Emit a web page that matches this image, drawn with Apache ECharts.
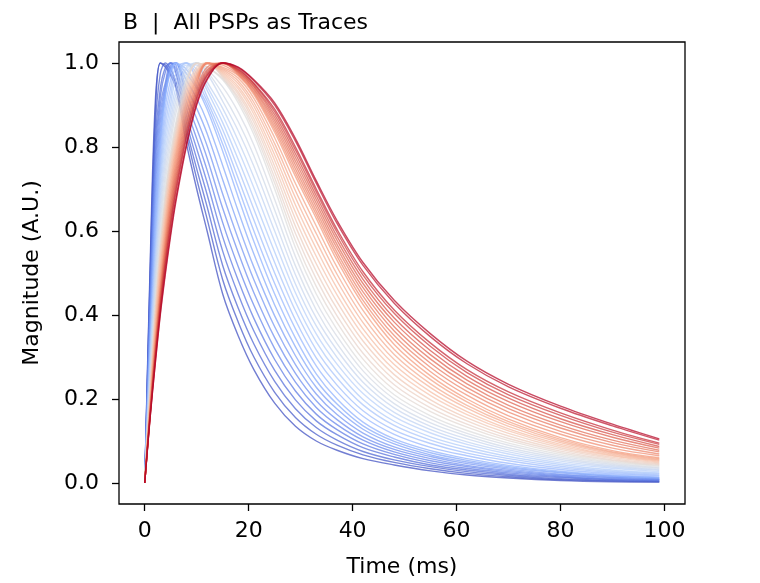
<!DOCTYPE html>
<html>
<head>
<meta charset="utf-8">
<title>All PSPs as Traces</title>
<script src="https://cdn.jsdelivr.net/npm/echarts@6/dist/echarts.min.js"></script>
<style>
  html, body { margin: 0; padding: 0; background: #fff; }
  #chart { width: 760px; height: 583px; }
</style>
</head>
<body>
<div id="chart"></div>
<script>
// sample times (ms), shared by every trace
const TIME_MS = [0, 1, 2, 3, 4, 5, 6, 8, 10, 12, 15, 18, 21, 25, 29, 33, 37, 42, 48, 55, 62, 70, 80, 90, 99];

// normalised PSP traces, fastest (blue) to slowest (red)
const trace00 = [0, .50, .90, 1.0, .99, .97, .94, .81, .70, .60, .45, .35, .27, .19, .135, .10, .078, .058, .043, .029, .019, .012, .006, .003, .002];
const trace01 = [0, .482, .87, 1.0, .995, .975, .95, .83, .724, .629, .484, .383, .30, .216, .156, .116, .090, .067, .049, .034, .023, .015, .008, .005, .003];
const trace02 = [0, .464, .84, .975, 1.0, .985, .955, .843, .748, .658, .518, .416, .331, .242, .177, .132, .102, .075, .055, .039, .027, .018, .010, .006, .004];
const trace03 = [0, .446, .81, .94, .99, 1.0, .975, .86, .772, .687, .552, .449, .362, .268, .198, .148, .115, .084, .062, .043, .031, .021, .013, .008, .006];
const trace04 = [0, .428, .78, .92, .98, 1.0, .985, .876, .796, .716, .586, .482, .392, .294, .219, .164, .127, .093, .068, .048, .035, .024, .015, .009, .007];
const trace05 = [0, .41, .75, .90, .955, 1.0, .995, .893, .82, .745, .62, .515, .423, .32, .24, .18, .139, .102, .074, .053, .039, .027, .017, .011, .008];
const trace06 = [0, .392, .72, .88, .948, .995, 1.0, .909, .844, .774, .654, .548, .453, .346, .261, .196, .151, .110, .080, .058, .042, .030, .019, .013, .009];
const trace07 = [0, .374, .69, .86, .941, .99, 1.0, .926, .868, .803, .688, .581, .484, .372, .282, .212, .163, .119, .086, .063, .046, .033, .021, .014, .010];
const trace08 = [0, .356, .66, .84, .934, .985, 1.0, .942, .892, .832, .722, .614, .514, .398, .303, .228, .176, .128, .093, .067, .050, .036, .024, .016, .012];
const trace09 = [0, .338, .63, .82, .927, .982, 1.0, .959, .916, .861, .756, .647, .545, .424, .324, .244, .188, .136, .099, .072, .054, .039, .026, .017, .013];
const trace10 = [0, .32, .60, .80, .92, .98, 1.0, .975, .94, .89, .79, .68, .575, .45, .345, .26, .20, .145, .105, .077, .058, .042, .028, .019, .014];
const trace11 = [0, .31, .582, .778, .898, .961, 1.0, .985, .946, .90, .807, .703, .60, .475, .367, .279, .217, .159, .116, .085, .065, .047, .032, .022, .017];
const trace12 = [0, .30, .564, .756, .876, .942, .99, 1.0, .96, .91, .824, .725, .626, .50, .388, .298, .233, .172, .126, .094, .071, .053, .036, .025, .019];
const trace13 = [0, .29, .546, .734, .854, .923, .975, 1.0, .975, .92, .841, .748, .652, .525, .41, .317, .25, .186, .137, .102, .078, .058, .040, .028, .022];
const trace14 = [0, .28, .528, .712, .832, .904, .96, 1.0, .985, .935, .858, .77, .677, .55, .431, .336, .266, .199, .147, .11, .085, .063, .044, .031, .024];
const trace15 = [0, .27, .51, .69, .81, .885, .94, .995, .995, .945, .875, .793, .703, .575, .453, .355, .283, .213, .158, .119, .092, .069, .048, .035, .027];
const trace16 = [0, .26, .492, .668, .788, .866, .925, .99, 1.0, .955, .892, .815, .728, .60, .474, .374, .299, .226, .168, .127, .098, .074, .052, .038, .030];
const trace17 = [0, .25, .474, .646, .766, .847, .91, .985, 1.0, .975, .909, .838, .754, .625, .496, .393, .316, .24, .179, .135, .105, .079, .056, .041, .032];
const trace18 = [0, .24, .456, .624, .744, .828, .895, .975, 1.0, .98, .926, .86, .779, .65, .517, .412, .332, .253, .189, .143, .112, .084, .060, .044, .035];
const trace19 = [0, .23, .438, .602, .722, .809, .88, .965, 1.0, .985, .943, .883, .805, .675, .539, .431, .349, .267, .20, .152, .118, .09, .064, .047, .037];
const trace20 = [0, .22, .42, .58, .70, .79, .86, .96, 1.0, .99, .96, .905, .83, .70, .56, .45, .365, .28, .21, .16, .125, .095, .068, .05, .04];
const trace21 = [0, .215, .411, .569, .689, .78, .851, .953, 1.0, .991, .963, .912, .84, .714, .577, .468, .382, .295, .222, .17, .133, .101, .072, .053, .042];
const trace22 = [0, .21, .402, .558, .678, .77, .842, .946, .998, .998, .966, .918, .849, .727, .594, .486, .398, .309, .234, .179, .14, .106, .076, .055, .044];
const trace23 = [0, .205, .393, .547, .667, .76, .833, .939, .99, 1.0, .969, .925, .859, .741, .611, .504, .415, .324, .246, .189, .148, .112, .08, .058, .046];
const trace24 = [0, .20, .384, .536, .656, .75, .824, .932, .984, 1.0, .972, .931, .868, .754, .628, .522, .431, .338, .258, .198, .155, .118, .084, .061, .048];
const trace25 = [0, .195, .375, .525, .645, .74, .815, .925, .98, 1.0, .975, .938, .878, .768, .645, .54, .448, .353, .27, .208, .163, .124, .088, .064, .05];
const trace26 = [0, .19, .366, .514, .634, .73, .806, .918, .976, 1.0, .978, .944, .887, .781, .662, .558, .464, .367, .282, .217, .17, .129, .092, .066, .052];
const trace27 = [0, .185, .357, .503, .623, .72, .797, .911, .972, 1.0, .981, .951, .897, .795, .679, .576, .481, .382, .294, .227, .178, .135, .096, .069, .054];
const trace28 = [0, .18, .348, .492, .612, .71, .788, .904, .968, 1.0, .984, .957, .906, .808, .696, .594, .497, .396, .306, .236, .185, .141, .10, .072, .056];
const trace29 = [0, .175, .339, .481, .601, .70, .779, .897, .964, 1.0, .987, .964, .916, .822, .713, .612, .514, .411, .318, .246, .193, .146, .104, .074, .058];
const trace30 = [0, .17, .33, .47, .59, .69, .77, .89, .96, 1.0, .99, .97, .925, .835, .73, .63, .53, .425, .33, .255, .20, .152, .108, .077, .06];
const trace31 = [0, .168, .325, .463, .581, .68, .76, .881, .954, 1.0, .995, .972, .929, .842, .739, .639, .54, .435, .341, .265, .209, .16, .116, .083, .065];
const trace32 = [0, .166, .32, .456, .572, .67, .75, .872, .948, .998, .998, .974, .932, .849, .748, .648, .549, .445, .351, .275, .218, .169, .123, .09, .069];
const trace33 = [0, .164, .315, .449, .563, .66, .74, .863, .942, .99, 1.0, .976, .936, .856, .757, .657, .559, .455, .362, .285, .227, .177, .131, .096, .074];
const trace34 = [0, .162, .31, .442, .554, .65, .73, .854, .936, .984, 1.0, .978, .939, .863, .766, .666, .568, .465, .372, .295, .236, .185, .138, .102, .078];
const trace35 = [0, .16, .305, .435, .545, .64, .72, .845, .93, .98, 1.0, .98, .943, .87, .775, .675, .578, .475, .383, .305, .245, .194, .146, .109, .083];
const trace36 = [0, .158, .30, .428, .536, .63, .71, .836, .924, .976, 1.0, .982, .946, .877, .784, .684, .587, .485, .393, .315, .254, .202, .153, .115, .087];
const trace37 = [0, .156, .295, .421, .527, .62, .70, .827, .918, .972, 1.0, .984, .95, .884, .793, .693, .597, .495, .404, .325, .263, .21, .161, .121, .092];
const trace38 = [0, .154, .291, .415, .52, .612, .692, .82, .913, .969, 1.0, .986, .952, .89, .80, .70, .604, .503, .412, .333, .27, .217, .167, .126, .095];
const trace39 = [0, .151, .283, .405, .506, .597, .677, .806, .904, .963, 1.0, .989, .958, .90, .814, .714, .618, .518, .428, .348, .284, .229, .178, .136, .102];
const trace40 = [0, .15, .28, .40, .50, .59, .67, .80, .90, .96, 1.0, .99, .96, .905, .82, .72, .625, .525, .435, .355, .29, .235, .183, .14, .105];

const TRACES = [
  trace00, trace01, trace02, trace03, trace04, trace05, trace06, trace07, trace08, trace09,
  trace10, trace11, trace12, trace13, trace14, trace15, trace16, trace17, trace18, trace19,
  trace20, trace21, trace22, trace23, trace24, trace25, trace26, trace27, trace28, trace29,
  trace30, trace31, trace32, trace33, trace34, trace35, trace36, trace37, trace38, trace39,
  trace40
];

const X_TICKS = [0, 20, 40, 60, 80, 100];
const Y_TICKS = [0, 0.2, 0.4, 0.6, 0.8, 1.0];

// matplotlib "coolwarm" stops
const COOLWARM = [
  [59, 76, 192], [98, 130, 234], [141, 176, 254], [184, 208, 249], [221, 221, 221],
  [245, 196, 173], [244, 154, 123], [222, 96, 77], [180, 4, 38]
];

function coolwarm(t) {
  const pos = t * (COOLWARM.length - 1);
  const i = Math.min(Math.floor(pos), COOLWARM.length - 2);
  const f = pos - i;
  const a = COOLWARM[i], b = COOLWARM[i + 1];
  const c = a.map((v, j) => Math.round(v + (b[j] - v) * f));
  return 'rgb(' + c.join(',') + ')';
}

const FONT = 'DejaVu Sans';
const INK = '#000';

const chart = echarts.init(document.getElementById('chart'));

chart.setOption({
  animation: false,
  title: {
    text: 'B  |  All PSPs as Traces',
    left: 118,
    top: 7,
    textStyle: { fontFamily: FONT, fontSize: 22, fontWeight: 'normal', color: INK }
  },
  grid: {
    left: 119, top: 42, width: 566, height: 462,
    show: true, borderColor: INK, borderWidth: 1.3
  },
  xAxis: {
    type: 'value',
    min: -4.95, max: 103.95,
    name: 'Time (ms)',
    nameLocation: 'middle',
    nameGap: 52,
    nameTextStyle: { fontFamily: FONT, fontSize: 22, color: INK },
    axisLine: { show: false, onZero: false },
    axisTick: { show: true, length: 7, customValues: X_TICKS, lineStyle: { color: INK, width: 1.3 } },
    axisLabel: { customValues: X_TICKS, fontFamily: FONT, fontSize: 22, color: INK, margin: 16 },
    splitLine: { show: false }
  },
  yAxis: {
    type: 'value',
    min: -0.05, max: 1.05,
    name: 'Magnitude (A.U.)',
    nameLocation: 'middle',
    nameGap: 76,
    nameTextStyle: { fontFamily: FONT, fontSize: 22, color: INK },
    axisLine: { show: false, onZero: false },
    axisTick: { show: true, length: 7, customValues: Y_TICKS, lineStyle: { color: INK, width: 1.3 } },
    axisLabel: {
      customValues: Y_TICKS, fontFamily: FONT, fontSize: 22, color: INK, margin: 20,
      formatter: v => v.toFixed(1)
    },
    splitLine: { show: false }
  },
  series: TRACES.map((trace, i) => ({
    type: 'line',
    data: trace.map((v, j) => [TIME_MS[j], v]),
    showSymbol: false,
    symbol: 'none',
    smooth: 0.35,
    silent: true,
    lineStyle: { width: 1.4, color: coolwarm(i / (TRACES.length - 1)), opacity: 0.72 }
  }))
});
</script>
</body>
</html>
